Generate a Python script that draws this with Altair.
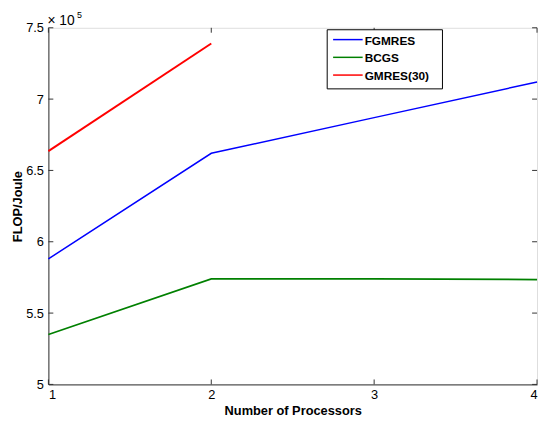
import altair as alt
import pandas as pd

processors = [1, 2, 3, 4]
fgmres = [5.88, 6.62, 6.87, 7.12]
bcgs = [5.35, 5.74, 5.74, 5.735]
gmres30_x = [1, 2]
gmres30 = [6.635, 7.39]

series = ["FGMRES", "BCGS", "GMRES(30)"]
colors = ["#0000FF", "#008000", "#FF0000"]
widths = [1.5, 2.0, 2.5]

y_ticks = [5, 5.5, 6, 6.5, 7, 7.5]
x_ticks = [1, 2, 3, 4]

rows = []
for p, v in zip(processors, fgmres):
    rows.append({"p": p, "v": v, "s": "FGMRES"})
for p, v in zip(processors, bcgs):
    rows.append({"p": p, "v": v, "s": "BCGS"})
for p, v in zip(gmres30_x, gmres30):
    rows.append({"p": p, "v": v, "s": "GMRES(30)"})
df = pd.DataFrame(rows)

W, H = 496, 362
FONT = "Liberation Sans"
AX = "#333333"

xs = alt.Scale(domain=[1, 4], nice=False)
ys = alt.Scale(domain=[5, 7.5], nice=False, zero=False)

lines = alt.Chart(df).mark_line().encode(
    x=alt.X("p:Q", scale=xs,
            axis=alt.Axis(values=x_ticks, title="Number of Processors", format="d",
                          tickSize=0, labelPadding=4, domainColor=AX, grid=False,
                          labelFont=FONT, labelFontSize=13, labelColor="black",
                          titleFont=FONT, titleColor="black",
                          titleFontWeight="bold", titleFontSize=13, titlePadding=4)),
    y=alt.Y("v:Q", scale=ys,
            axis=alt.Axis(values=y_ticks, title="FLOP/Joule", format="~g",
                          tickSize=0, labelPadding=5, domainColor=AX, grid=False,
                          labelFont=FONT, labelFontSize=13, labelColor="black",
                          titleFont=FONT, titleColor="black",
                          titleFontWeight="bold", titleFontSize=13, titlePadding=1)),
    color=alt.Color("s:N", scale=alt.Scale(domain=series, range=colors), legend=None),
    strokeWidth=alt.StrokeWidth("s:N", scale=alt.Scale(domain=series, range=widths), legend=None),
)

ytd = pd.DataFrame({"v": y_ticks})
xtd = pd.DataFrame({"p": x_ticks})
tick_style = dict(color=AX, strokeWidth=1)
yl = alt.Chart(ytd).mark_rule(**tick_style).encode(y=alt.Y("v:Q", scale=ys), x=alt.value(0), x2=alt.value(5))
yr = alt.Chart(ytd).mark_rule(**tick_style).encode(y=alt.Y("v:Q", scale=ys), x=alt.value(W), x2=alt.value(W - 5))
xb = alt.Chart(xtd).mark_rule(**tick_style).encode(x=alt.X("p:Q", scale=xs), y=alt.value(H), y2=alt.value(H - 5))
xt = alt.Chart(xtd).mark_rule(**tick_style).encode(x=alt.X("p:Q", scale=xs), y=alt.value(0), y2=alt.value(5))

# manual legend (MATLAB style)
LX0, LX1, LY0, LY1 = 283, 400, 2, 62
box = alt.Chart(pd.DataFrame({"a": [0]})).mark_rect(
    fill="white", stroke="black", strokeWidth=1).encode(
    x=alt.value(LX0), x2=alt.value(LX1), y=alt.value(LY0), y2=alt.value(LY1))
legend_layers = [box]
for i, (s, c) in enumerate(zip(series, colors)):
    yy = 12 + 18 * i
    one = pd.DataFrame({"s": [s]})
    legend_layers.append(alt.Chart(one).mark_rule(color=c, strokeWidth=1.5).encode(
        x=alt.value(289), x2=alt.value(319), y=alt.value(yy)))
    legend_layers.append(alt.Chart(one).mark_text(
        align="left", baseline="middle", font=FONT, fontSize=12, fontWeight="bold",
        color="black").encode(x=alt.value(321), y=alt.value(yy + 1), text="s:N"))

exp1 = alt.Chart(pd.DataFrame({"t": ["\u00d7 10"]})).mark_text(
    align="left", baseline="alphabetic", fontSize=14, font=FONT, color="black").encode(
    x=alt.value(-1), y=alt.value(-3), text="t:N")
exp2 = alt.Chart(pd.DataFrame({"t": ["5"]})).mark_text(
    align="left", baseline="alphabetic", fontSize=9, font=FONT, color="black").encode(
    x=alt.value(29), y=alt.value(-10), text="t:N")

chart = alt.layer(lines, yl, yr, xb, xt, exp1, exp2, *legend_layers).properties(
    width=W, height=H,
    autosize=alt.AutoSizeParams(type="none"),
    padding={"left": 41, "top": 17, "right": 2, "bottom": 30},
).configure_view(stroke=AX, strokeWidth=1).configure(background="white")

chart.save("out.html", embed_options={"renderer": "svg", "actions": False})
